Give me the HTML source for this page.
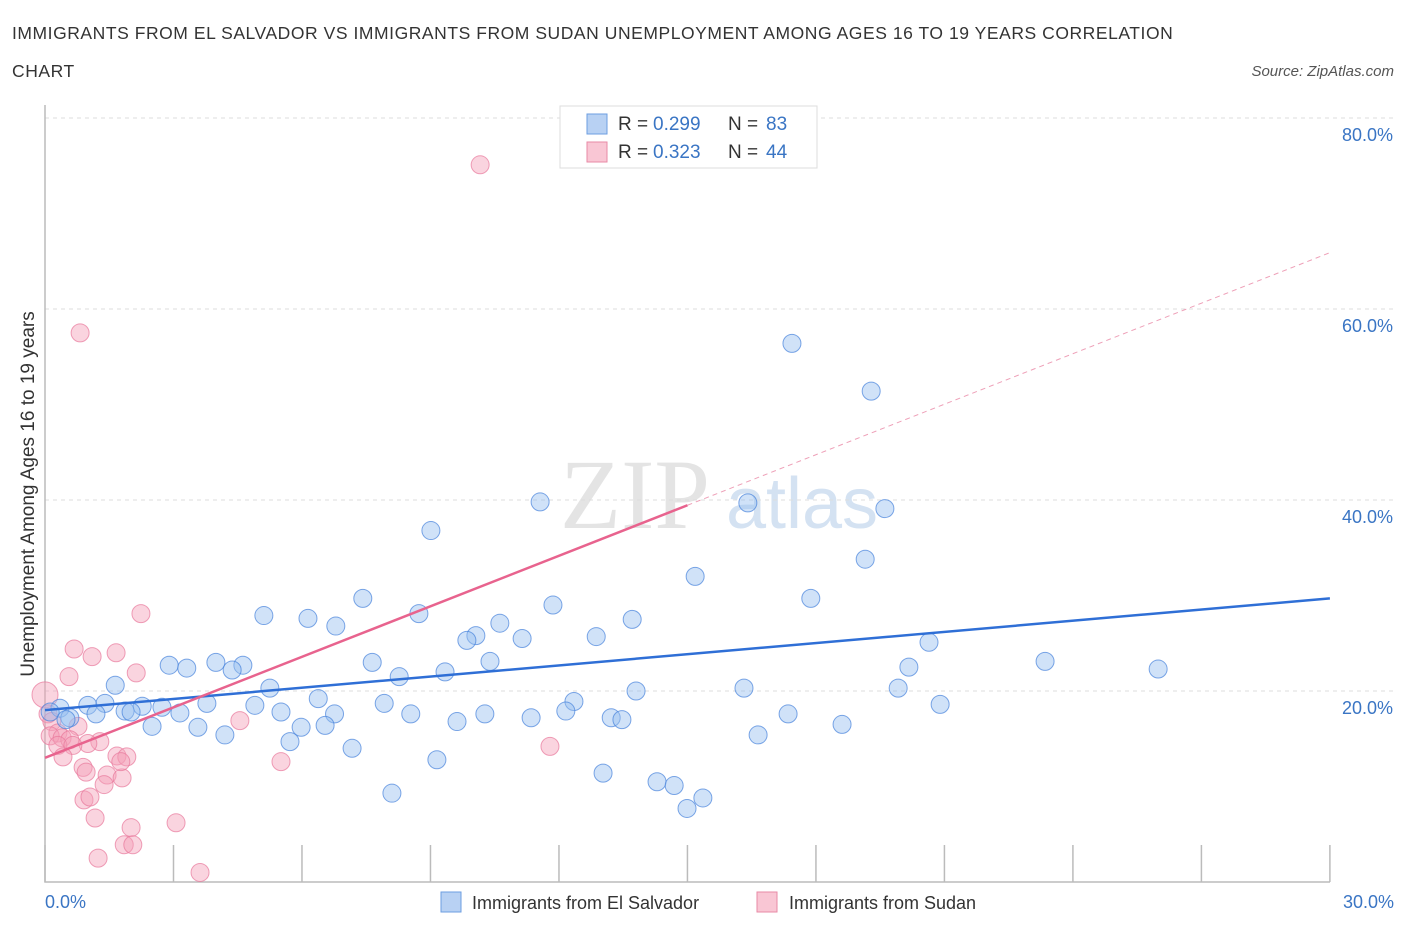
<!DOCTYPE html>
<html><head><meta charset="utf-8"><style>
body{margin:0;background:#fff;font-family:"Liberation Sans",sans-serif;}
svg{display:block}
</style></head><body>
<svg width="1406" height="930" id="chart">
<text x="12" y="39" font-size="17.5" letter-spacing="0.55" fill="#333">IMMIGRANTS FROM EL SALVADOR VS IMMIGRANTS FROM SUDAN UNEMPLOYMENT AMONG AGES 16 TO 19 YEARS CORRELATION</text>
<text x="12" y="77" font-size="17.5" letter-spacing="0.55" fill="#333">CHART</text>
<text x="1394" y="76" font-size="15" fill="#555" font-style="italic" text-anchor="end">Source: ZipAtlas.com</text>
<text x="635" y="528" font-size="100" fill="#e4e4e4" font-family="Liberation Serif,serif" text-anchor="middle">ZIP</text>
<text x="802" y="528" font-size="72" fill="#d4e2f2" text-anchor="middle">atlas</text>
<g id="grid"></g>
<g id="pts"></g>
<g id="lines"></g>
<text transform="translate(34,494) rotate(-90)" font-size="19" fill="#333" text-anchor="middle">Unemployment Among Ages 16 to 19 years</text>
<text x="45" y="908" font-size="18" fill="#3a75c4">0.0%</text>
<text x="1394" y="908" font-size="18" fill="#3a75c4" text-anchor="end">30.0%</text>
<g>
<rect x="560" y="106" width="257" height="62" fill="#fff" stroke="#ddd"/>
<rect x="587" y="114" width="20" height="20" fill="#b8d1f3" stroke="#6d9ee0"/>
<rect x="587" y="142" width="20" height="20" fill="#f9c6d4" stroke="#e88aa6"/>
<text x="618" y="130" font-size="19" fill="#333">R =</text>
<text x="653" y="130" font-size="19" fill="#3a75c4">0.299</text>
<text x="728" y="130" font-size="19" fill="#333">N =</text>
<text x="766" y="130" font-size="19" fill="#3a75c4">83</text>
<text x="618" y="158" font-size="19" fill="#333">R =</text>
<text x="653" y="158" font-size="19" fill="#3a75c4">0.323</text>
<text x="728" y="158" font-size="19" fill="#333">N =</text>
<text x="766" y="158" font-size="19" fill="#3a75c4">44</text>
</g>
<g>
<rect x="441" y="892" width="20" height="20" fill="#b8d1f3" stroke="#6d9ee0"/>
<text x="472" y="909" font-size="18" fill="#333">Immigrants from El Salvador</text>
<rect x="757" y="892" width="20" height="20" fill="#f9c6d4" stroke="#e88aa6"/>
<text x="789" y="909" font-size="18" fill="#333">Immigrants from Sudan</text>
</g>
</svg>
<script>
const yTicks=[20,40,60,80];
const xTicks=[0,3,6,9,12,15,18,21,24,27,30];
const blueX=[17.44,19.29,11.56,16.41,19.61,9.01,19.15,15.18,17.88,7.42,11.86,5.11,6.14,8.73,13.71,6.79,10.62,10.06,9.85,11.14,12.87,20.64,2.90,3.31,3.99,4.62,4.37,7.64,10.39,9.34,23.35,25.99,20.17,8.27,1.64,5.25,13.80,16.32,19.92,12.35,6.38,1.00,1.40,2.27,2.73,3.78,4.90,7.92,20.90,0.35,0.12,1.87,2.01,1.19,3.15,5.51,6.76,8.54,10.27,12.16,17.35,0.58,0.49,11.35,13.22,13.47,9.62,2.50,3.57,5.98,6.54,18.61,4.20,16.65,5.72,7.17,9.15,13.03,14.29,14.69,8.10,15.36,14.99];
const blueY=[56.4,51.4,39.8,39.7,39.1,36.8,33.8,32.0,29.7,29.7,29.0,27.9,27.6,28.1,27.5,26.8,27.1,25.8,25.3,25.5,25.7,25.1,22.7,22.4,23.0,22.7,22.2,23.0,23.1,22.0,23.1,22.3,22.5,21.5,20.6,20.3,20.0,20.3,20.3,18.9,19.2,18.5,18.7,18.4,18.3,18.7,18.5,18.7,18.6,18.2,17.8,17.9,17.8,17.6,17.7,17.8,17.6,17.6,17.6,17.9,17.6,17.2,17.0,17.2,17.2,17.0,16.8,16.3,16.2,16.2,16.4,16.5,15.4,15.4,14.7,14.0,12.8,11.4,10.5,10.1,9.3,8.8,7.7];
const pinkX=[10.16,0.82,2.24,0.68,1.66,1.10,2.13,0.56,0,4.55,0.07,0.16,0.77,0.30,0.12,0.40,0.58,1.28,1.00,0.30,0.65,1.68,1.91,0.42,11.79,5.51,0.89,0.96,1.45,1.80,1.38,0.91,1.05,1.17,2.01,3.06,1.85,2.05,1.24,3.62,1.77];
const pinkY=[75.1,57.5,28.1,24.4,24.0,23.6,21.9,21.5,19.6,16.9,17.6,16.8,16.3,15.6,15.3,15.1,14.9,14.7,14.5,14.3,14.3,13.2,13.1,13.1,14.2,12.6,12.0,11.5,11.2,10.9,10.2,8.6,8.9,6.7,5.7,6.2,3.9,3.9,2.5,1.0,12.6];
const blueTrend=[18.0,29.7];
const pinkTrend=[13.0,65.9];
const pinkSolidEnd=15;
const X=v=>45+v*42.83, Y=v=>882-v*9.55;
const NS='http://www.w3.org/2000/svg';
function mk(t,a,p){const e=document.createElementNS(NS,t);for(const k in a)e.setAttribute(k,a[k]);p.appendChild(e);return e;}
const g=document.getElementById('grid');
yTicks.forEach(v=>{
 const l=mk('line',{x1:45,x2:1393,y1:Y(v),y2:Y(v),stroke:'#ddd','stroke-dasharray':'4,4'},g);
 
 
 const t=mk('text',{x:1393,y:Y(v)+23,'font-size':18,fill:'#3a75c4','text-anchor':'end'},g);
 t.textContent=v.toFixed(1)+'%';
 
 
});
const ax=mk('path',{d:'M45 105V882H1330',stroke:'#bbb',fill:'none','stroke-width':1.5},g);


xTicks.forEach(v=>{
 const l=mk('line',{x1:X(v),x2:X(v),y1:845,y2:882,stroke:'#bbb','stroke-width':1.5},g);
 
 
});
const pg=document.getElementById('pts');
pinkX.forEach((x,i)=>{
 const c=mk('circle',{cx:X(x),cy:Y(pinkY[i]),r:x===0?13:9,fill:'rgba(244,160,185,0.45)',stroke:'rgba(232,120,155,0.7)','stroke-width':1},pg);
 
 
});
blueX.forEach((x,i)=>{
 const c=mk('circle',{cx:X(x),cy:Y(blueY[i]),r:9,fill:'rgba(150,190,240,0.45)',stroke:'rgba(70,130,220,0.7)','stroke-width':1},pg);
 
 
});
const lg=document.getElementById('lines');
const pAt=v=>pinkTrend[0]+(pinkTrend[1]-pinkTrend[0])*v/30;
let l1=mk('line',{x1:X(0),y1:Y(blueTrend[0]),x2:X(30),y2:Y(blueTrend[1]),stroke:'#2f6fd6','stroke-width':2.5},lg);


let l2=mk('line',{x1:X(0),y1:Y(pinkTrend[0]),x2:X(pinkSolidEnd),y2:Y(pAt(pinkSolidEnd)),stroke:'#e8638e','stroke-width':2.5},lg);


let l3=mk('line',{x1:X(pinkSolidEnd),y1:Y(pAt(pinkSolidEnd)),x2:X(30),y2:Y(pinkTrend[1]),stroke:'#eea0b8','stroke-width':1,'stroke-dasharray':'5,4'},lg);


</script>
</body></html>
